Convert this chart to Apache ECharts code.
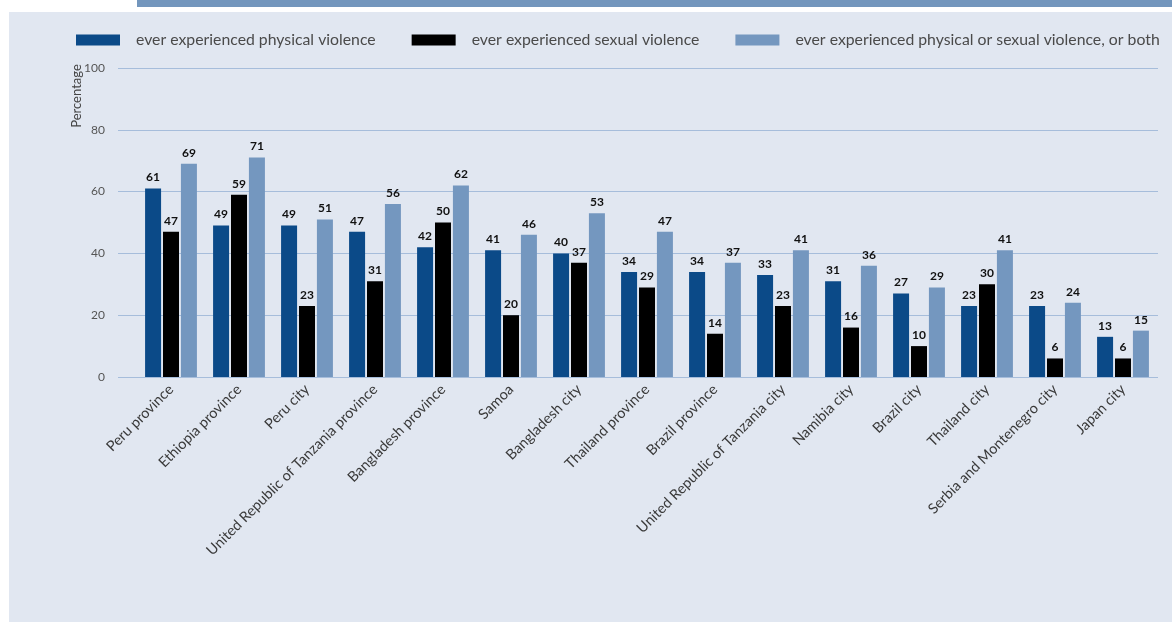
<!DOCTYPE html>
<html>
<head>
<meta charset="utf-8">
<title>Violence chart</title>
<script src="https://cdn.jsdelivr.net/npm/echarts@6/dist/echarts.min.js"></script>
<style>
	html, body { margin: 0; padding: 0; background: #ffffff; }
	#chart { width: 1172px; height: 622px; }
</style>
</head>
<body>
<div id="chart"></div>
<script>
// categories + values
var categories = ['Peru province', 'Ethiopia province', 'Peru city', 'United Republic of Tanzania province',
	'Bangladesh province', 'Samoa', 'Bangladesh city', 'Thailand province', 'Brazil province',
	'United Republic of Tanzania city', 'Namibia city', 'Brazil city', 'Thailand city',
	'Serbia and Montenegro city', 'Japan city'];
var physical = [61, 49, 49, 47, 42, 41, 40, 34, 34, 33, 31, 27, 23, 23, 13];
var sexual = [47, 59, 23, 31, 50, 20, 37, 29, 14, 23, 16, 10, 30, 6, 6];
var either = [69, 71, 51, 56, 62, 46, 53, 47, 37, 41, 36, 29, 41, 24, 15];
var seriesNames = ['ever experienced physical violence', 'ever experienced sexual violence',
	'ever experienced physical or sexual violence, or both'];
var yTicks = [0, 20, 40, 60, 80, 100];

(function () {
	var chart = echarts.init(document.getElementById('chart'));
	var font = 'Lato, "Open Sans", sans-serif';

	var labelStyle = {
		show: true,
		position: 'top',
		distance: 5,
		color: '#111',
		fontWeight: 'bold',
		fontSize: 12,
		fontFamily: font
	};

	function bar(name, data, color) {
		return {
			name: name,
			type: 'bar',
			data: data,
			xAxisIndex: 1,
			yAxisIndex: 1,
			barWidth: 16,
			barGap: '12%',
			itemStyle: { color: color },
			label: labelStyle
		};
	}

	var option = {
		animation: false,
		backgroundColor: '#ffffff',
		graphic: [
			{ type: 'rect', shape: { x: 137, y: 0, width: 1035, height: 7 }, style: { fill: '#7396bd' }, z: -10 },
			{ type: 'rect', shape: { x: 9, y: 12, width: 1163, height: 610 }, style: { fill: '#e1e7f1' }, z: -10 },
			{
				type: 'text', x: 77, y: 96, rotation: Math.PI / 2,
				style: { text: 'Percentage', fill: '#444', font: '13px ' + font, align: 'center', verticalAlign: 'middle' }
			}
		],
		legend: {
			top: 27,
			left: 71,
			itemWidth: 44,
			itemHeight: 11,
			itemGap: 36,
			icon: 'rect',
			textStyle: { color: '#4a4a4a', fontSize: 15.8, fontFamily: font, padding: [0, 0, 0, 11] },
			data: seriesNames
		},
		grid: [
			{ left: 118, right: 14, top: 68, bottom: 245 },
			{ left: 137, right: 15, top: 68, bottom: 245 }
		],
		xAxis: [
			{ gridIndex: 0, type: 'value', show: false, min: 0, max: 1 },
			{
				gridIndex: 1,
				type: 'category',
				data: categories,
				axisLine: { show: false },
				axisTick: { show: false },
				axisLabel: { rotate: 45, color: '#3a3a3a', fontSize: 14.5, fontFamily: font, margin: 10, interval: 0 }
			}
		],
		yAxis: [
			{
				gridIndex: 0,
				type: 'value',
				min: 0,
				max: 100,
				interval: 20,
				axisLine: { show: false },
				axisTick: { show: false },
				axisLabel: {
					color: '#555', fontSize: 12, fontFamily: font, margin: 13,
					formatter: function (v) { return yTicks.indexOf(v) >= 0 ? String(v) : ''; }
				},
				splitLine: { lineStyle: { color: '#a6bddb', width: 1 } }
			},
			{ gridIndex: 1, type: 'value', min: 0, max: 100, show: false }
		],
		series: [
			bar(seriesNames[0], physical, '#0b4a88'),
			bar(seriesNames[1], sexual, '#000000'),
			bar(seriesNames[2], either, '#7497bf')
		]
	};

	chart.setOption(option);

	window.addEventListener('resize', function () {
		chart.resize();
	});
})();
</script>
</body>
</html>
